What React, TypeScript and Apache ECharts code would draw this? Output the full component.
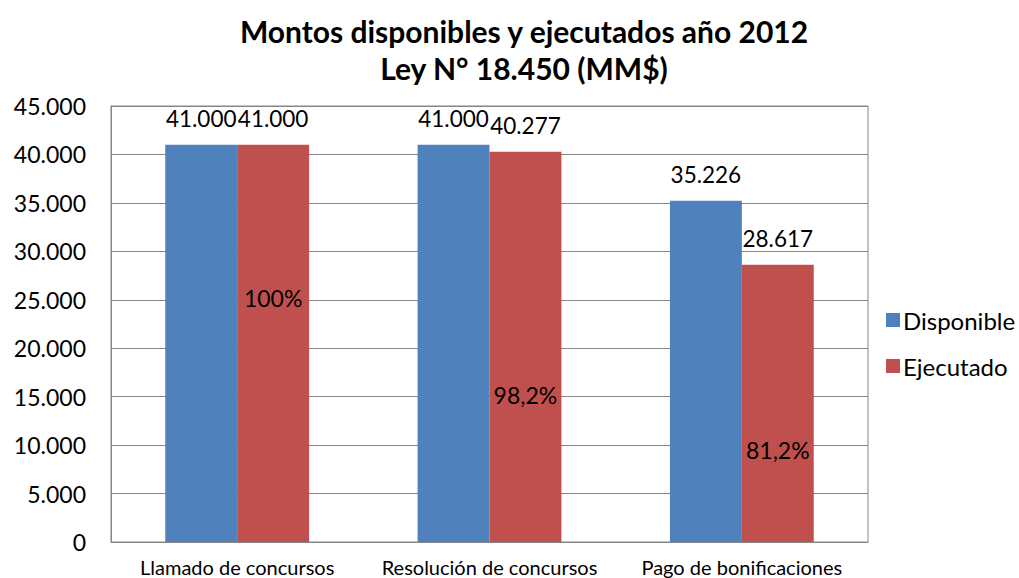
import React, { useEffect, useRef } from "react";
import * as echarts from "echarts";

const categories = ["Llamado de concursos", "Resolución de concursos", "Pago de bonificaciones"];
const disponible = [41000, 41000, 35226];
const ejecutado = [41000, 40277, 28617];
const percentLabels = ["100%", "98,2%", "81,2%"];
const percentLabelLevels = [25200, 15200, 9500];
const yTicks = { min: 0, max: 45000, interval: 5000 };

const FONT = "Lato, 'Open Sans', sans-serif";

const fmt = (v: number) => {
  const s = Math.round(v).toString();
  return s.replace(/\B(?=(\d{3})+(?!\d))/g, ".");
};

export default function App() {
  const ref = useRef<HTMLDivElement>(null);
  useEffect(() => {
    if (!ref.current) return;
    const chart = echarts.init(ref.current, undefined, { renderer: "svg" });
    const BAR_RATIO = 0.285;
    chart.setOption({
      animation: false,
      backgroundColor: "#ffffff",
      textStyle: { fontFamily: FONT },
      title: {
        text: "Montos disponibles y ejecutados año 2012\nLey N° 18.450 (MM$)",
        left: 519,
        top: 7,
        textAlign: "center",
        textStyle: { fontFamily: FONT, fontWeight: "bold", fontSize: 30, color: "#000", lineHeight: 37 },
      },
      legend: {
        orient: "vertical",
        left: 881,
        top: 303,
        itemWidth: 14,
        itemHeight: 14,
        itemGap: 22,
        icon: "rect",
        textStyle: { fontFamily: FONT, fontSize: 24, color: "#000", padding: [0, 0, 0, -2] },
        data: ["Disponible", "Ejecutado"],
      },
      grid: {
        left: 111,
        top: 106,
        width: 757,
        height: 436,
        show: true,
        borderColor: "#868686",
        borderWidth: 1,
        containLabel: false,
      },
      xAxis: {
        type: "category",
        data: categories,
        axisLine: { lineStyle: { color: "#868686" } },
        axisTick: { show: false },
        axisLabel: { interval: 0, hideOverlap: false, fontFamily: FONT, fontSize: 20, color: "#000", margin: 15 },
      },
      yAxis: {
        type: "value",
        min: yTicks.min,
        max: yTicks.max,
        interval: yTicks.interval,
        axisLine: { show: true, lineStyle: { color: "#868686" } },
        axisTick: { show: false },
        splitLine: { lineStyle: { color: "#868686" } },
        axisLabel: { fontFamily: FONT, fontSize: 23, color: "#000", margin: 25, formatter: (v: number) => fmt(v) },
      },
      series: [
        {
          name: "Disponible",
          type: "bar",
          data: disponible,
          barWidth: "28.5%",
          barGap: "0%",
          itemStyle: { color: "#4F81BD" },
          label: { show: true, position: "top", distance: 15, fontFamily: FONT, fontSize: 22.5, color: "#000", formatter: (p: any) => fmt(p.value) },
        },
        {
          name: "Ejecutado",
          type: "bar",
          data: ejecutado,
          barWidth: "28.5%",
          itemStyle: { color: "#C0504D" },
          label: { show: true, position: "top", distance: 15, fontFamily: FONT, fontSize: 22.5, color: "#000", formatter: (p: any) => fmt(p.value) },
        },
        {
          name: "pct",
          type: "custom",
          data: percentLabelLevels.map((v, i) => [i, v]),
          silent: true,
          z: 10,
          renderItem: (params: any, api: any) => {
            const pt = api.coord([api.value(0), api.value(1)]);
            const band = api.size([1, 0])[0];
            const i = params.dataIndex;
            return {
              type: "text",
              x: pt[0] + (band * BAR_RATIO) / 2,
              y: pt[1],
              style: {
                text: percentLabels[i],
                fontFamily: FONT,
                fontSize: 23,
                fill: "#000",
                align: "center",
                verticalAlign: "middle",
              },
            };
          },
        },
      ],
    });
    return () => chart.dispose();
  }, []);
  return <div ref={ref} style={{ position: "fixed", left: 0, top: 0, width: 1019, height: 578 }} />;
}
